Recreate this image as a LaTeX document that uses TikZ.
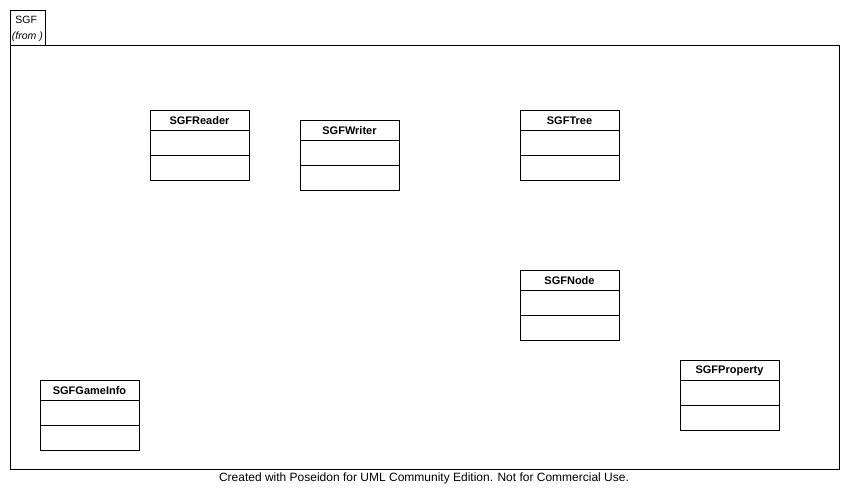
\documentclass[tikz,border=0pt]{standalone}
\usepackage{fontspec}
\setmainfont{Liberation Sans}
\begin{document}
\begin{tikzpicture}[x=1pt,y=-1pt,line width=0.9pt,
        classname/.style={font=\bfseries\fontsize{11}{13}\selectfont,inner sep=0pt}]
            \useasboundingbox (0,0) rectangle (850,502);
            % package SGF
            \draw (10,10) rectangle (45,45);
            \draw (10,45) rectangle (839,469);
            \node[anchor=west,inner sep=0pt,font=\fontsize{10.5}{12}\selectfont] (pkgname) at (15,20) {SGF};
            \node[anchor=west,inner sep=0pt,font=\itshape\fontsize{10.5}{12}\selectfont] (pkgfrom) at (11.5,37) {(from )};

            % classes
            \foreach \x/\y/\name in {150/110/SGFReader, 300/120/SGFWriter, 520/110/SGFTree,
                520/270/SGFNode, 40/380/SGFGameInfo, 680/360/SGFProperty}
                {
                    \draw (\x,\y) rectangle ++(99,70);
                    \draw (\x,\y+20) -- ++(99,0);
                    \draw (\x,\y+45) -- ++(99,0);
                    \node[classname] (\name) at (\x+49.5,\y+10.5) {\name};
                }

            \node[inner sep=0pt,font=\fontsize{12}{14}\selectfont] (footer) at (424,478.5) {Created with Poseidon for UML Community Edition. Not for Commercial Use.};
        \end{tikzpicture}
\end{document}
